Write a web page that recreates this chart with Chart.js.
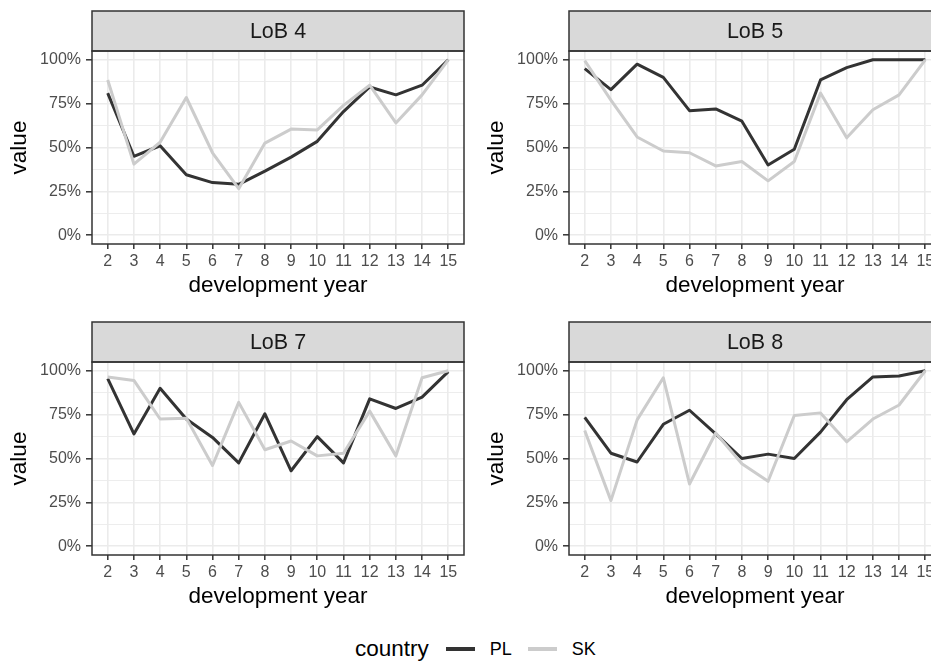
<!DOCTYPE html>
<html>
<head>
<meta charset="utf-8">
<title>Development year ratios by LoB</title>
<script src="https://cdn.jsdelivr.net/npm/chart.js@4.4.1/dist/chart.umd.min.js"></script>
<style>
  html, body { margin: 0; padding: 0; background: #ffffff; }
  #wrap { position: relative; width: 931px; height: 663px; overflow: hidden; background: #ffffff; }
  #wrap canvas { position: absolute; }
  #legend {
    position: absolute; left: 355px; top: 636px; height: 26px;
    display: flex; align-items: center;
    font-family: "Liberation Sans", Arial, Helvetica, sans-serif; white-space: nowrap;
  }
  #legend .ttl { font-size: 22.5px; line-height: 26px; color: #000000; margin-right: 17px; }
  #legend .key { width: 29px; height: 3.5px; margin-right: 15px; }
  #legend .lab { font-size: 18px; line-height: 22px; color: #000000; margin-right: 16px; }
</style>
</head>
<body>
<div id="wrap">
  <canvas id="panel1" width="470" height="305" style="left:0px;top:0px"></canvas>
  <canvas id="panel2" width="470" height="305" style="left:477px;top:0px"></canvas>
  <canvas id="panel3" width="470" height="305" style="left:0px;top:311px"></canvas>
  <canvas id="panel4" width="470" height="305" style="left:477px;top:311px"></canvas>
  <div id="legend"></div>
</div>
<script>
// development years on the x axis
const devYears = [2, 3, 4, 5, 6, 7, 8, 9, 10, 11, 12, 13, 14, 15];

// facet titles and legend entries
const panelTitles = ['LoB 4', 'LoB 5', 'LoB 7', 'LoB 8'];
const legendTitle = 'country';
const countries = ['PL', 'SK'];

// values in percent, one per development year
const lob4PL = [81, 45, 51, 34.5, 30, 29, 36.5, 44.5, 53.5, 70.5, 84.5, 80, 85.5, 100];
const lob4SK = [88.5, 40.5, 53, 78.5, 47, 26.5, 52.5, 60.5, 60, 74, 85.5, 64, 80, 100];

const lob5PL = [95, 83, 97.5, 90, 71, 72, 65, 40, 49, 88.5, 95.5, 100, 100, 100];
const lob5SK = [99.5, 77, 56, 48, 47, 39.5, 42, 31, 42, 81, 55.5, 71.5, 80, 100];

const lob7PL = [95.5, 64, 90, 72.5, 62, 47.5, 75.5, 43, 62.5, 47.5, 84, 78.5, 85, 99.5];
const lob7SK = [96.5, 94.5, 72.5, 73, 46, 82, 55, 60, 51.5, 53, 77, 51.5, 96, 100];

const lob8PL = [73.5, 53, 48, 69.5, 77.5, 64, 50, 52.5, 50, 65, 83.5, 96.5, 97, 100];
const lob8SK = [66, 26, 72, 96, 35.5, 64.5, 47, 37, 74.5, 76, 59.5, 72.5, 80.5, 100];

// y axis breaks
const yMajorTicks = [0, 25, 50, 75, 100];
const yMinorTicks = [12.5, 37.5, 62.5, 87.5];

const panelSeries = [
  [lob4PL, lob4SK],
  [lob5PL, lob5SK],
  [lob7PL, lob7SK],
  [lob8PL, lob8SK]
];

// appearance
const FONT = '"Liberation Sans", Arial, Helvetica, sans-serif';
const seriesColors = { PL: '#333333', SK: '#cccccc' };
const seriesOrder = { PL: 1, SK: 0 };   // SK is drawn over PL

const isMajor = v => yMajorTicks.includes(v);

// panel background, grey facet strip and the dark panel border
const facetPlugin = {
  id: 'facet',
  beforeDraw(chart, args, opts) {
    const { ctx, chartArea: a } = chart;
    ctx.save();
    ctx.fillStyle = '#ffffff';
    ctx.fillRect(a.left, a.top, a.right - a.left, a.bottom - a.top);
    ctx.fillStyle = '#d9d9d9';
    ctx.fillRect(a.left, opts.stripTop, a.right - a.left, a.top - opts.stripTop);
    ctx.restore();
  },
  afterDraw(chart, args, opts) {
    const { ctx, chartArea: a } = chart;
    ctx.save();
    ctx.strokeStyle = '#333333';
    ctx.lineWidth = 1.5;
    ctx.strokeRect(a.left, a.top, a.right - a.left, a.bottom - a.top);
    ctx.strokeRect(a.left, opts.stripTop, a.right - a.left, a.top - opts.stripTop);
    ctx.fillStyle = '#1a1a1a';
    ctx.font = '21.5px ' + FONT;
    ctx.textAlign = 'center';
    ctx.textBaseline = 'middle';
    ctx.fillText(opts.label, (a.left + a.right) / 2, (opts.stripTop + a.top) / 2 + 1);
    ctx.restore();
  }
};

function makePanel(canvasId, title, series) {
  const datasets = countries.map((name, k) => ({
    label: name,
    data: devYears.map((x, i) => ({ x: x, y: series[k][i] })),
    borderColor: seriesColors[name],
    backgroundColor: seriesColors[name],
    borderWidth: 3,
    borderJoinStyle: 'round',
    borderCapStyle: 'butt',
    pointRadius: 0,
    pointHoverRadius: 0,
    tension: 0,
    fill: false,
    order: seriesOrder[name]
  }));

  return new Chart(document.getElementById(canvasId), {
    type: 'line',
    data: { datasets: datasets },
    plugins: [facetPlugin],
    options: {
      responsive: false,
      animation: false,
      devicePixelRatio: 1,
      events: [],
      layout: { padding: { top: 51, right: 6, bottom: 0, left: 0 } },
      plugins: {
        legend: { display: false },
        tooltip: { enabled: false },
        facet: { label: title, stripTop: 11 }
      },
      scales: {
        x: {
          type: 'linear',
          min: 1.4,
          max: 15.6,
          afterBuildTicks: s => { s.ticks = devYears.map(v => ({ value: v })); },
          afterFit: s => { s.height = 61; },
          border: { display: false },
          grid: {
            color: '#ebebeb',
            lineWidth: 1.6,
            tickLength: 5,
            tickColor: '#333333',
            tickWidth: 1.5
          },
          ticks: {
            color: '#4d4d4d',
            font: { family: FONT, size: 16 },
            padding: 3,
            autoSkip: false,
            maxRotation: 0,
            minRotation: 0,
            callback: v => String(v)
          },
          title: {
            display: true,
            text: 'development year',
            color: '#000000',
            font: { family: FONT, size: 22.5 },
            padding: { top: 0, bottom: 6 }
          }
        },
        y: {
          type: 'linear',
          min: -5,
          max: 105,
          afterBuildTicks: s => {
            s.ticks = yMajorTicks.concat(yMinorTicks).sort((a, b) => a - b).map(v => ({ value: v }));
          },
          afterFit: s => { s.width = 92; },
          border: { display: false },
          grid: {
            color: '#ebebeb',
            lineWidth: c => (c.tick && isMajor(c.tick.value)) ? 1.6 : 0.9,
            tickLength: 6,
            tickColor: c => (c.tick && isMajor(c.tick.value)) ? '#333333' : 'rgba(0,0,0,0)',
            tickWidth: 1.5
          },
          ticks: {
            color: '#4d4d4d',
            font: { family: FONT, size: 16 },
            padding: 5,
            autoSkip: false,
            callback: v => isMajor(v) ? v + '%' : ''
          },
          title: {
            display: true,
            text: 'value',
            color: '#000000',
            font: { family: FONT, size: 22.5 },
            padding: { top: 6, bottom: 0 }
          }
        }
      }
    }
  });
}

['panel1', 'panel2', 'panel3', 'panel4'].forEach((id, i) => makePanel(id, panelTitles[i], panelSeries[i]));

// legend: title, then a line key and label per country
const legendEl = document.getElementById('legend');
const ttl = document.createElement('span');
ttl.className = 'ttl';
ttl.textContent = legendTitle;
legendEl.appendChild(ttl);
countries.forEach(name => {
  const key = document.createElement('span');
  key.className = 'key';
  key.style.background = seriesColors[name];
  legendEl.appendChild(key);
  const lab = document.createElement('span');
  lab.className = 'lab';
  lab.textContent = name;
  legendEl.appendChild(lab);
});
</script>
</body>
</html>
